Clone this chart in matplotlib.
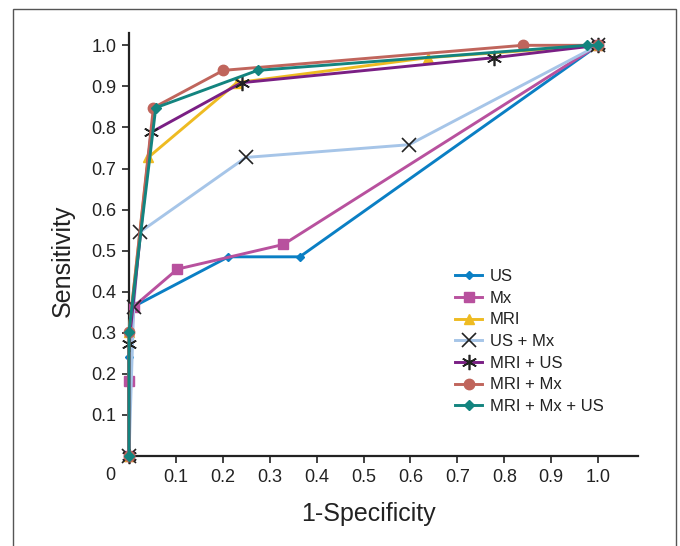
import matplotlib
matplotlib.use("Agg")
import matplotlib.pyplot as plt
from matplotlib.patches import Rectangle

plt.rcParams["font.family"] = ["Liberation Sans", "DejaVu Sans"]

# ROC points (1-specificity, sensitivity) per modality
us_x = [0, 0, 0.01, 0.212, 0.364, 1.0]
us_y = [0, 0.242, 0.364, 0.485, 0.485, 1.0]
mx_x = [0, 0, 0.01, 0.103, 0.329, 1.0]
mx_y = [0, 0.182, 0.364, 0.455, 0.515, 1.0]
mri_x = [0, 0, 0.041, 0.23, 0.638, 1.0]
mri_y = [0, 0.303, 0.727, 0.909, 0.970, 1.0]
usmx_x = [0, 0.01, 0.023, 0.249, 0.597, 1.0]
usmx_y = [0, 0.364, 0.545, 0.727, 0.758, 1.0]
mrius_x = [0, 0, 0.047, 0.24, 0.779, 1.0]
mrius_y = [0, 0.273, 0.788, 0.909, 0.970, 1.0]
mrimx_x = [0, 0, 0.052, 0.201, 0.839, 1.0]
mrimx_y = [0, 0.303, 0.848, 0.939, 1.0, 1.0]
all_x = [0, 0, 0.057, 0.274, 0.976, 1.0]
all_y = [0, 0.303, 0.848, 0.939, 1.0, 1.0]

ticks = [0.1, 0.2, 0.3, 0.4, 0.5, 0.6, 0.7, 0.8, 0.9, 1.0]
tick_labels = ["0.1", "0.2", "0.3", "0.4", "0.5", "0.6", "0.7", "0.8", "0.9", "1.0"]

fig = plt.figure(figsize=(6.8, 5.46), dpi=100)
ax = fig.add_axes([129 / 680, 1 - 456 / 546, 509 / 680, 423 / 546])

lw = 2.1
common = dict(lw=lw, clip_on=False, zorder=3)
ax.plot(us_x, us_y, color="#0a7fc4", marker="D", ms=4.5, label="US", **common)
ax.plot(mx_x, mx_y, color="#b8519e", marker="s", ms=7.5, label="Mx", **common)
ax.plot(mri_x, mri_y, color="#eebb22", marker="^", ms=7.5, label="MRI", **common)
ax.plot(usmx_x, usmx_y, color="#a6c5e8", marker="x", ms=10, mec="#222222",
        mew=1.2, label="US + Mx", **common)
ax.plot(mrius_x, mrius_y, color="#7a1f84", marker=(6, 2, 0), ms=11, mec="#222222",
        mew=1.2, label="MRI + US", **common)
ax.plot(mrimx_x, mrimx_y, color="#c0655c", marker="o", ms=7.5, label="MRI + Mx", **common)
ax.plot(all_x, all_y, color="#13847f", marker="D", ms=5, label="MRI + Mx + US", **common)

ax.set_xlim(0, 1.085)
ax.set_ylim(0, 1.03)
ax.set_xticks(ticks)
ax.set_xticklabels(tick_labels)
ax.set_yticks(ticks)
ax.set_yticklabels(tick_labels)
ax.tick_params(direction="out", length=5, width=1.2, color="#222222",
               labelsize=13, labelcolor="#222222", pad=4)
for side in ["top", "right"]:
    ax.spines[side].set_visible(False)
for side in ["left", "bottom"]:
    ax.spines[side].set_linewidth(1.6)
    ax.spines[side].set_color("#222222")

# shared origin label in the corner
fig.text(110 / 680, 1 - 476 / 546, "0", fontsize=13, color="#222222",
         ha="center", va="center")

ax.set_xlabel("1-Specificity", fontsize=18, color="#222222")
ax.set_ylabel("Sensitivity", fontsize=18, color="#222222")
ax.xaxis.set_label_coords((368 - 129) / 509, -(514 - 456) / 423)
ax.yaxis.set_label_coords(-(129 - 63) / 509, (456 - 261) / 423)
ax.xaxis.label.set_va("center")
ax.yaxis.label.set_va("center")

leg = ax.legend(loc="upper left", bbox_to_anchor=(455 / 680, 1 - 269 / 546),
                bbox_transform=fig.transFigure, frameon=False, fontsize=12,
                handlelength=1.65, handletextpad=0.45, labelspacing=0.4,
                borderaxespad=0, borderpad=0)
for t in leg.get_texts():
    t.set_color("#222222")

# thin frame around the whole panel
fig.patches.append(Rectangle((13 / 680, -0.02), (676 - 13) / 680, 1 - 9 / 546 + 0.02,
                             transform=fig.transFigure, fill=False,
                             edgecolor="#555555", lw=1.0))

fig.savefig("out.png", dpi=100)
